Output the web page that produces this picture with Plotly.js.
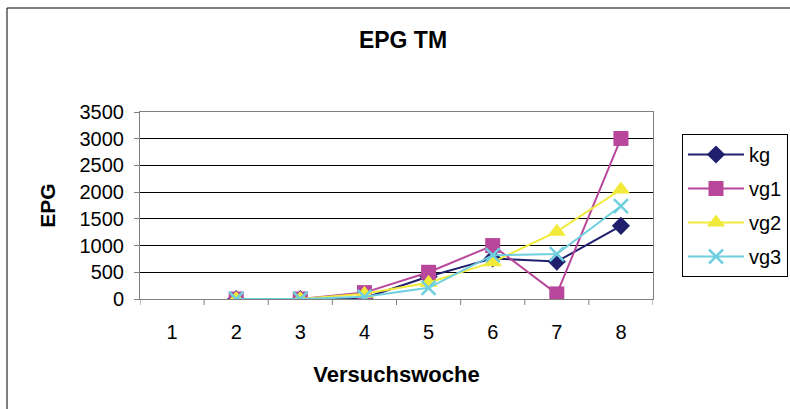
<!DOCTYPE html>
<html><head><meta charset="utf-8">
<script src="https://cdn.plot.ly/plotly-3.0.1.min.js"></script>
<style>html,body{margin:0;padding:0;background:#fff}#c{width:790px;height:409px}</style>
</head><body><div id="c"></div>
<script>
const weeks = [1, 2, 3, 4, 5, 6, 7, 8];
const kg  = [null, 0, 0, 20, 420, 760, 700, 1370];
const vg1 = [null, 0, 0, 120, 500, 1000, 95, 3005];
const vg2 = [null, 0, 0, 100, 305, 690, 1260, 2050];
const vg3 = [null, 0, 0, 40, 210, 820, 840, 1740];
const seriesNames = ['kg', 'vg1', 'vg2', 'vg3'];
const yTicks = [0, 500, 1000, 1500, 2000, 2500, 3000, 3500];

const colors = ['#1f1f6e', '#b8479c', '#f2ea3a', '#6fcfdf'];
const symbols = ['diamond', 'square', 'triangle-up', 'x-thin-open'];
const sizes = [14, 15, 16, 14];
const data = [kg, vg1, vg2, vg3].map((ys, i) => ({
  x: weeks, y: ys, name: seriesNames[i], legendgroup: 'g' + i, type: 'scatter', mode: 'lines+markers',
  line: {color: colors[i], width: 2},
  marker: {symbol: symbols[i], size: sizes[i], color: colors[i], line: {color: colors[i], width: i === 3 ? 2.5 : 0}},
  connectgaps: false
}));

const L = 140, R = 653, T = 112, B = 299, W = 790, H = 409;
const pw = R - L, ph = B - T;
const layout = {
  width: W, height: H,
  margin: {l: L, r: W - R, t: T, b: H - B, pad: 0, autoexpand: false},
  paper_bgcolor: '#fff', plot_bgcolor: '#fff',
  font: {family: 'Liberation Sans, Arial, sans-serif', size: 20, color: '#000'},
  title: {text: '<b>EPG TM</b>', font: {size: 23}, x: 405 / W, xref: 'paper', xanchor: 'center', y: 1 - 40 / H, yref: 'container', yanchor: 'middle'},
  xaxis: {
    type: 'linear', range: [0.5, 8.5], tickvals: weeks, ticktext: weeks.map(String),
    showgrid: false, zeroline: false, showline: true, linecolor: '#808080', linewidth: 1, mirror: true,
    ticks: '', ticklabelstandoff: 15,
    title: {text: '<b>Versuchswoche</b>', font: {size: 22}, standoff: 24}
  },
  yaxis: {
    range: [0, 3500], tickvals: yTicks, ticktext: yTicks.map(String),
    showgrid: true, gridcolor: '#000', gridwidth: 1, zeroline: false,
    showline: true, linecolor: '#808080', linewidth: 1, mirror: true,
    ticks: 'outside', ticklen: 5, tickcolor: '#808080', ticklabelstandoff: 6,
    title: {text: '<b>EPG</b>', font: {size: 21}, standoff: 18}
  },
  showlegend: true,
  legend: {
    xref: 'container', yref: 'container',
    x: 682 / W, y: 1 - 134 / H, xanchor: 'left', yanchor: 'top',
    bordercolor: '#000', borderwidth: 1, bgcolor: '#fff',
    font: {size: 20}, itemwidth: 56, tracegroupgap: 5
  },
  shapes: [
    {type: 'rect', xref: 'paper', yref: 'paper', x0: (7 - L) / pw, x1: (800 - L) / pw, y0: (B - 420) / ph, y1: (B - 8) / ph, line: {color: '#000', width: 1}, layer: 'below'}
  ].concat([1.5, 2.5, 3.5, 4.5, 5.5, 6.5, 7.5].concat([0.5, 8.5]).map(v => ({
    type: 'line', xref: 'x', yref: 'paper', x0: v, x1: v, y0: 0, y1: -6 / ph, line: {color: '#808080', width: 1}
  })))
};
Plotly.newPlot('c', data, layout, {displayModeBar: false, staticPlot: true});
</script></body></html>
